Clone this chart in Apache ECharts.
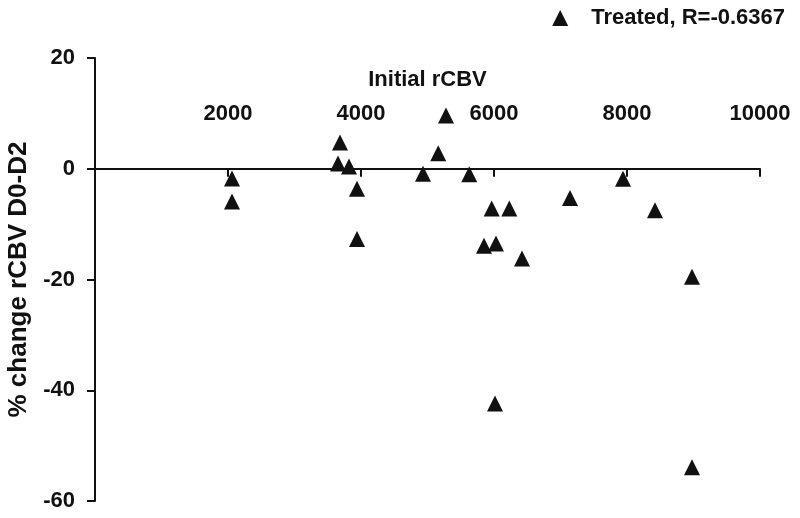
<!DOCTYPE html>
<html>
<head>
<meta charset="utf-8">
<script src="https://cdn.jsdelivr.net/npm/echarts@6/dist/echarts.min.js"></script>
<style>html,body{margin:0;padding:0;background:#fff;}#c{width:800px;height:518px;}</style>
</head>
<body>
<div id="c"></div>
<script>
const seriesName = 'Treated, R=-0.6367';
const initialRCBV = [2060, 2060, 3684, 3654, 3820, 3940, 3940, 4932, 5162, 5278, 5628, 5965, 6230, 5850, 6030, 6421, 7143, 7940, 8421, 8977, 6015, 8977];
const pctChange = [-1.75, -5.9, 4.75, 0.95, 0.4, -3.6, -12.7, -0.9, 2.8, 9.6, -1.0, -7.2, -7.2, -13.9, -13.5, -16.2, -5.3, -1.8, -7.5, -19.5, -42.4, -53.9];
const xTicks = { min: 0, max: 10000, interval: 2000 };
const yTicks = { min: -60, max: 20, interval: 20 };
const xName = 'Initial rCBV';
const yName = '% change rCBV D0-D2';

const FONT = '"Liberation Sans", Arial, sans-serif';
const INK = '#111';
const points = initialRCBV.map((x, i) => [x, pctChange[i]]);

const GRID = { left: 95, right: 40, top: 58, bottom: 17 };
const H = 518;
const gridH = H - GRID.top - GRID.bottom;
// shift the top x axis down to y = 0
const zeroShift = gridH * (yTicks.max - 0) / (yTicks.max - yTicks.min);

const chart = echarts.init(document.getElementById('c'), null, { renderer: 'canvas' });
chart.setOption({
  animation: false,
  backgroundColor: '#fff',
  textStyle: { fontFamily: FONT },
  grid: Object.assign({ containLabel: false, outerBoundsMode: 'none' }, GRID),
  legend: {
    right: 10, top: 2,
    icon: 'triangle',
    itemWidth: 16, itemHeight: 16,
    textStyle: { fontFamily: FONT, fontWeight: 'bold', fontSize: 22, color: INK, padding: [0, 0, 0, 18] },
    data: [seriesName]
  },
  xAxis: {
    type: 'value',
    position: 'top',
    offset: -zeroShift,
    min: xTicks.min, max: xTicks.max, interval: xTicks.interval,
    name: xName, nameLocation: 'middle', nameGap: 78,
    nameTextStyle: { fontFamily: FONT, fontWeight: 'bold', fontSize: 22, color: INK },
    axisLine: { show: true, onZero: false, lineStyle: { color: INK, width: 2 } },
    axisTick: { show: true, inside: true, length: 8, lineStyle: { color: INK, width: 2 } },
    axisLabel: { show: true, margin: 44, showMinLabel: false, fontFamily: FONT, fontWeight: 'bold', fontSize: 22, color: INK, formatter: v => String(v) },
    splitLine: { show: false }
  },
  yAxis: {
    type: 'value',
    min: yTicks.min, max: yTicks.max, interval: yTicks.interval,
    name: yName, nameLocation: 'middle', nameGap: 58, nameRotate: 90,
    nameTextStyle: { fontFamily: FONT, fontWeight: 'bold', fontSize: 26, color: INK },
    axisLine: { show: true, onZero: false, lineStyle: { color: INK, width: 2 } },
    axisTick: { show: true, length: 8, lineStyle: { color: INK, width: 2 } },
    axisLabel: { margin: 20, fontFamily: FONT, fontWeight: 'bold', fontSize: 22, color: INK, formatter: v => String(v) },
    splitLine: { show: false }
  },
  series: [{
    name: seriesName,
    type: 'scatter',
    symbol: 'triangle',
    symbolSize: 16,
    itemStyle: { color: INK, opacity: 1 },
    data: points
  }]
});
</script>
</body>
</html>
